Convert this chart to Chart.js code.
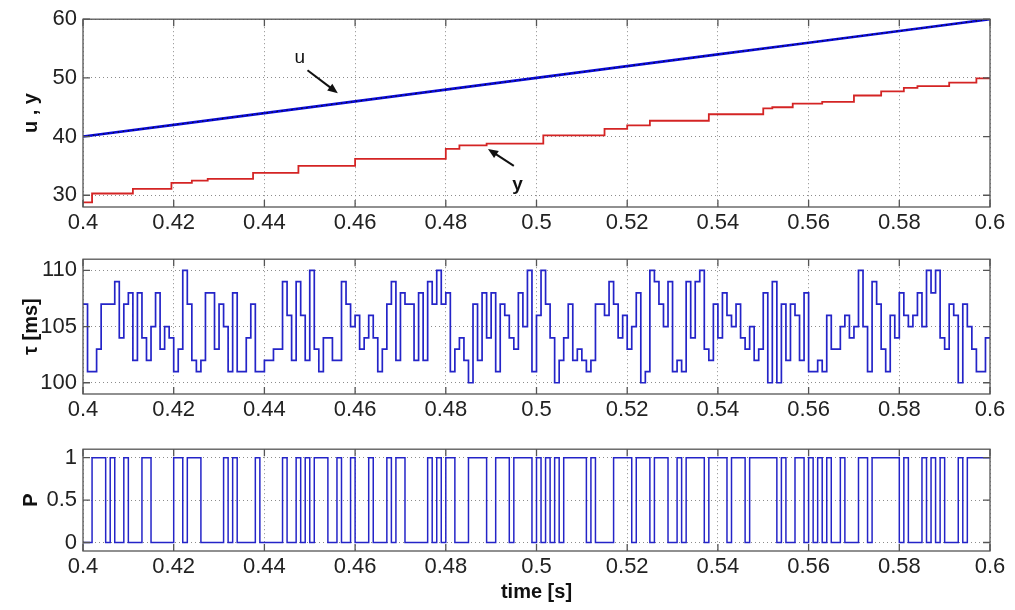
<!DOCTYPE html>
<html>
<head>
<meta charset="utf-8">
<script src="https://cdn.jsdelivr.net/npm/chart.js@4/dist/chart.umd.min.js"></script>
<style>
body { margin: 0; background: #fff; }
#wrap { position: relative; width: 1015px; height: 610px; background: #fff; }
canvas { position: absolute; left: 0; }
</style>
</head>
<body>
<div id="wrap">
  <canvas id="c1" width="1015" height="240" style="top:0"></canvas>
  <canvas id="c2" width="1015" height="190" style="top:240px"></canvas>
  <canvas id="c3" width="1015" height="180" style="top:430px"></canvas>
</div>
<script>
// shared time axis
var timeTicks = [0.4, 0.42, 0.44, 0.46, 0.48, 0.5, 0.52, 0.54, 0.56, 0.58, 0.6];

// top panel: u (ramp) and y (stepped output)
var uTime = [0.4, 0.42, 0.44, 0.46, 0.48, 0.5, 0.52, 0.54, 0.56, 0.58, 0.6];
var uValues = [40, 42, 44, 46, 48, 50, 52, 54, 56, 58, 60];
var yTime = [0.4, 0.402, 0.411, 0.4195, 0.424, 0.4275, 0.4375, 0.4475, 0.46, 0.48, 0.483, 0.489,
             0.5015, 0.515, 0.52, 0.525, 0.538, 0.55, 0.552, 0.5565, 0.563, 0.57, 0.576, 0.581,
             0.584, 0.591, 0.597, 0.6];
var yValues = [28.8, 30.3, 31.1, 32.1, 32.5, 32.8, 33.8, 35.0, 36.2, 37.9, 38.5, 38.8,
               40.2, 41.3, 41.9, 42.7, 43.8, 44.8, 45.0, 45.6, 45.9, 47.0, 47.7, 48.3,
               48.6, 49.2, 49.9, 49.9];
var uyTicks = [30, 40, 50, 60];

// sampled signals, one value per 1 ms from 0.4 s
var sampleStart = 0.4, sampleStep = 0.001;
var tauValues = [
  107,101,101,103,107,107,107,109,104,107, 108,102,108,104,102,105,108,103,105,104,
  101,103,110,107,102,101,102,108,108,103, 107,105,101,108,101,101,104,107,101,101,
  102,102,103,103,109,106,102,109,106,102, 110,103,101,104,104,102,102,109,107,105,
  106,103,104,106,104,101,103,107,109,102, 108,107,107,102,108,102,109,107,110,107,
  108,101,103,104,102,100,107,102,108,104, 108,101,107,106,104,103,108,105,110,101,
  106,110,107,104,100,102,104,107,102,103, 102,101,102,107,107,106,109,107,104,106,
  103,105,108,100,101,110,109,107,105,109, 101,102,101,109,104,109,110,103,102,107,
  104,108,106,105,107,104,103,105,102,103, 108,100,109,100,107,102,107,106,102,108,
  101,101,102,101,106,103,103,105,106,104, 105,110,105,101,109,107,103,101,106,104,
  108,106,105,106,108,105,110,108,110,104, 103,107,106,100,107,105,103,101,101,104
];
var tauTicks = [100, 105, 110];
var pValues = [
  0,0,1,1,1,0,1,0,0,1, 0,0,0,1,1,0,0,0,0,0, 1,1,0,1,1,1,0,0,0,0, 0,1,0,1,0,0,0,0,1,0,
  0,0,0,0,1,0,0,1,0,1, 0,1,1,1,0,0,1,0,0,1, 0,0,0,1,0,0,0,1,0,1, 1,0,0,0,0,0,1,0,1,0,
  1,1,0,0,0,1,1,1,1,0, 0,1,1,1,0,1,1,1,1,0, 1,0,1,0,1,0,1,1,1,1, 1,0,1,0,0,0,0,1,1,1,
  1,0,1,1,1,0,1,1,1,0, 0,1,0,1,1,1,1,0,1,1, 1,1,0,1,1,1,0,1,1,1, 1,1,1,0,1,0,0,1,1,
  0,1,0,1,0,1,0,0,1,0, 0,0,1,1,0,1,1,1,1,1, 1,0,1,0,0,0,1,0,1,0, 1,0,0,0,1,0,1,1,1,1, 1
];
var pTicks = [0, 0.5, 1];

function pairs(xs, ys) {
  return xs.map(function (x, i) { return { x: x, y: ys[i] }; });
}
function sampled(vals) {
  var pts = vals.map(function (v, k) { return { x: +(sampleStart + k * sampleStep).toFixed(3), y: v }; });
  pts.push({ x: 0.6, y: vals[vals.length - 1] });
  return pts;
}

Chart.defaults.font.family = '"Liberation Sans", Arial, sans-serif';
Chart.defaults.color = '#222';

// axes box with inward ticks on all four sides (matlab style)
var boxPlugin = {
  id: 'box',
  afterDraw: function (chart) {
    var a = chart.chartArea, ctx = chart.ctx, xs = chart.scales.x, ys = chart.scales.y;
    ctx.save();
    ctx.strokeStyle = '#555';
    ctx.lineWidth = 1.3;
    ctx.strokeRect(a.left, a.top, a.right - a.left, a.bottom - a.top);
    ctx.beginPath();
    xs.ticks.forEach(function (t) {
      var px = xs.getPixelForValue(t.value);
      ctx.moveTo(px, a.bottom); ctx.lineTo(px, a.bottom - 7);
      ctx.moveTo(px, a.top); ctx.lineTo(px, a.top + 7);
    });
    ys.ticks.forEach(function (t) {
      var py = ys.getPixelForValue(t.value);
      ctx.moveTo(a.left, py); ctx.lineTo(a.left + 7, py);
      ctx.moveTo(a.right, py); ctx.lineTo(a.right - 7, py);
    });
    ctx.stroke();
    ctx.restore();
  }
};

// "u" and "y" labels with arrows, placed in data coordinates
var notes = [
  { text: 'u', bold: false, at: [0.4478, 53.4], from: [0.4495, 51.3], to: [0.4562, 47.4] },
  { text: 'y', bold: true, at: [0.4958, 31.8], from: [0.4950, 35.0], to: [0.4893, 37.9] }
];
var notePlugin = {
  id: 'notes',
  afterDraw: function (chart) {
    var ctx = chart.ctx, xs = chart.scales.x, ys = chart.scales.y;
    ctx.save();
    ctx.fillStyle = '#111';
    ctx.strokeStyle = '#111';
    ctx.lineWidth = 2;
    notes.forEach(function (n) {
      ctx.font = (n.bold ? 'bold ' : '') + '19px "Liberation Sans", Arial, sans-serif';
      ctx.textAlign = 'center';
      ctx.textBaseline = 'middle';
      ctx.fillText(n.text, xs.getPixelForValue(n.at[0]), ys.getPixelForValue(n.at[1]));
      var x1 = xs.getPixelForValue(n.from[0]), y1 = ys.getPixelForValue(n.from[1]);
      var x2 = xs.getPixelForValue(n.to[0]), y2 = ys.getPixelForValue(n.to[1]);
      var ang = Math.atan2(y2 - y1, x2 - x1);
      ctx.beginPath();
      ctx.moveTo(x1, y1);
      ctx.lineTo(x2 - 8 * Math.cos(ang), y2 - 8 * Math.sin(ang));
      ctx.stroke();
      ctx.beginPath();
      ctx.moveTo(x2, y2);
      ctx.lineTo(x2 - 11 * Math.cos(ang - 0.4), y2 - 11 * Math.sin(ang - 0.4));
      ctx.lineTo(x2 - 11 * Math.cos(ang + 0.4), y2 - 11 * Math.sin(ang + 0.4));
      ctx.closePath();
      ctx.fill();
    });
    ctx.restore();
  }
};

function panelOptions(cfg) {
  var gridOpts = { color: '#8c8c8c', lineWidth: 1, drawTicks: false };
  var borderOpts = { display: false, dash: [1, 3] };
  return {
    responsive: false,
    animation: false,
    events: [],
    layout: { autoPadding: false, padding: { top: cfg.padTop, right: 25, left: 0, bottom: 0 } },
    plugins: { legend: { display: false }, tooltip: { enabled: false } },
    elements: { point: { radius: 0 } },
    scales: {
      x: {
        type: 'linear', min: 0.4, max: 0.6,
        afterBuildTicks: function (s) { s.ticks = timeTicks.map(function (v) { return { value: v }; }); },
        afterFit: function (s) { s.height = cfg.xHeight; },
        ticks: {
          autoSkip: false, maxRotation: 0, padding: 3, font: { size: 22 },
          callback: function (v) { return String(+Number(v).toFixed(2)); }
        },
        grid: gridOpts,
        border: borderOpts,
        title: cfg.xTitle
          ? { display: true, text: cfg.xTitle, color: '#111', font: { size: 20, weight: 'bold' }, padding: { top: 0, bottom: 6 } }
          : { display: false }
      },
      y: {
        type: 'linear', min: cfg.yMin, max: cfg.yMax,
        afterBuildTicks: function (s) { s.ticks = cfg.yTicks.map(function (v) { return { value: v }; }); },
        afterFit: function (s) { s.width = 83; },
        ticks: { padding: 6, font: { size: 22 }, callback: function (v) { return String(v); } },
        grid: gridOpts,
        border: borderOpts,
        title: { display: true, text: cfg.yTitle, color: '#111', font: { size: 20, weight: 'bold' }, padding: { top: 19, bottom: 0 } }
      }
    }
  };
}

new Chart('c1', {
  type: 'line',
  data: {
    datasets: [{
      label: 'u ref',
      data: pairs(uTime, uValues),
      borderColor: '#111',
      borderWidth: 1.1,
      borderDash: [1.5, 3.5]
    }, {
      label: 'u',
      data: pairs(uTime, uValues),
      borderColor: '#0a0ad8',
      borderWidth: 2.6
    }, {
      label: 'y',
      data: pairs(yTime, yValues),
      borderColor: '#d42424',
      borderWidth: 1.8,
      stepped: 'before'
    }]
  },
  options: panelOptions({ padTop: 18, xHeight: 33, yMin: 28, yMax: 60, yTicks: uyTicks, yTitle: 'u , y' }),
  plugins: [boxPlugin, notePlugin]
});

new Chart('c2', {
  type: 'line',
  data: {
    datasets: [{
      label: 'tau',
      data: sampled(tauValues),
      borderColor: '#2424c8',
      borderWidth: 1.7,
      stepped: 'before'
    }]
  },
  options: panelOptions({ padTop: 6, xHeight: 36, yMin: 99, yMax: 111, yTicks: tauTicks, yTitle: 'τ [ms]' }),
  plugins: [boxPlugin]
});

new Chart('c3', {
  type: 'line',
  data: {
    datasets: [{
      label: 'P',
      data: sampled(pValues),
      borderColor: '#2424c8',
      borderWidth: 1.5,
      stepped: 'before'
    }]
  },
  options: panelOptions({ padTop: 8, xHeight: 59, yMin: -0.1, yMax: 1.1, yTicks: pTicks, yTitle: 'P', xTitle: 'time [s]' }),
  plugins: [boxPlugin]
});
</script>
</body>
</html>
